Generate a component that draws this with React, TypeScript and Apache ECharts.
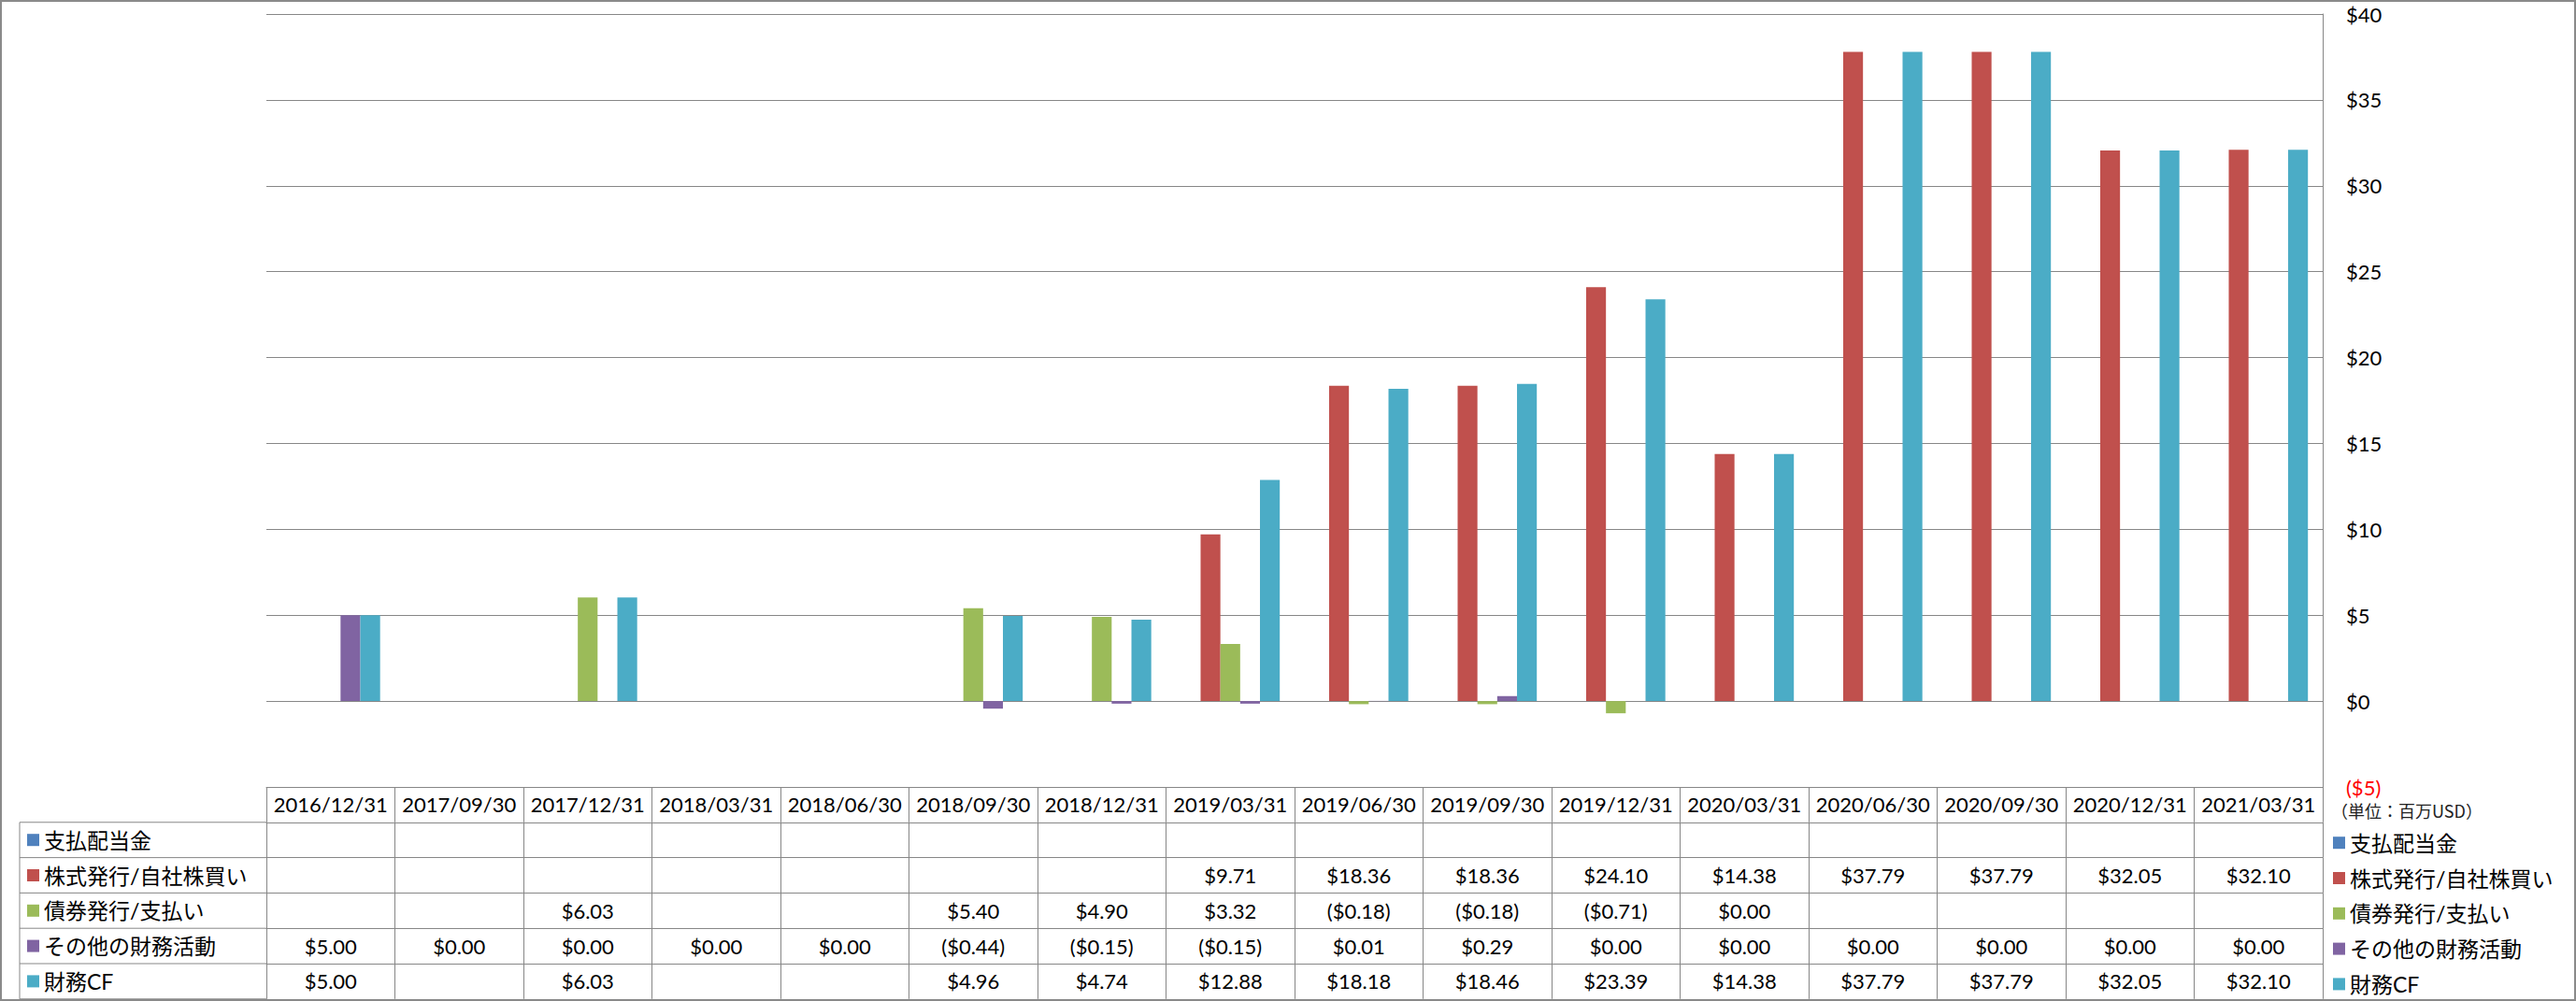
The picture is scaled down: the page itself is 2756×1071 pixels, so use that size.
import React, { useEffect, useRef } from 'react';
import * as echarts from 'echarts';

// ---------- data ----------
const categories = [
  '2016/12/31', '2017/09/30', '2017/12/31', '2018/03/31', '2018/06/30', '2018/09/30',
  '2018/12/31', '2019/03/31', '2019/06/30', '2019/09/30', '2019/12/31', '2020/03/31',
  '2020/06/30', '2020/09/30', '2020/12/31', '2021/03/31',
];

const seriesNames = ['支払配当金', '株式発行/自社株買い', '債券発行/支払い', 'その他の財務活動', '財務CF'];

const dividendsPaid = [null, null, null, null, null, null, null, null, null, null, null, null, null, null, null, null];
const stockIssuance = [null, null, null, null, null, null, null, 9.71, 18.36, 18.36, 24.10, 14.38, 37.79, 37.79, 32.05, 32.10];
const debtIssuance = [null, null, 6.03, null, null, 5.40, 4.90, 3.32, -0.18, -0.18, -0.71, 0.00, null, null, null, null];
const otherFinancing = [5.00, 0.00, 0.00, 0.00, 0.00, -0.44, -0.15, -0.15, 0.01, 0.29, 0.00, 0.00, 0.00, 0.00, 0.00, 0.00];
const financingCF = [5.00, null, 6.03, null, null, 4.96, 4.74, 12.88, 18.18, 18.46, 23.39, 14.38, 37.79, 37.79, 32.05, 32.10];

const yMin = -5;
const yMax = 40;
const yInterval = 5;
const unitLabel = '（単位：百万USD）';

// ---------- styling ----------
const COLORS = ['#4F81BD', '#C0504D', '#9BBB59', '#8064A2', '#4BACC6'];
const GRID = '#878787';
const FONT = "Lato, 'Noto Sans CJK JP', sans-serif";
const W = 2756;
const H = 1071;
const PLOT_LEFT = 285;
const PLOT_RIGHT = 2485;
const PLOT_TOP = 15;
const PLOT_BOTTOM = 842;
const ROW_H = 37.8;
const TABLE_LEFT = 21;
const TABLE_FS = 22;
const LEGEND_FS = 23;
const LEGEND_LH = 24;

const fmt = (v: number | null) =>
  v === null || v === undefined ? '' : v < 0 ? `($${Math.abs(v).toFixed(2)})` : `$${v.toFixed(2)}`;

export default function App() {
  const ref = useRef<HTMLDivElement>(null);

  useEffect(() => {
    if (!ref.current) return;
    const chart = echarts.init(ref.current, undefined, { renderer: 'svg' });

    const seriesData = [dividendsPaid, stockIssuance, debtIssuance, otherFinancing, financingCF];

    const baseAxis = {
      type: 'category',
      data: categories,
      gridIndex: 0,
      position: 'bottom',
      axisLine: { show: true, onZero: false, lineStyle: { color: GRID, width: 1 } },
      axisTick: { show: true, length: ROW_H, interval: 0, alignWithLabel: false, lineStyle: { color: GRID, width: 1 } },
      splitLine: { show: false },
      axisPointer: { show: false },
    };

    const xAxes: any[] = [
      {
        ...baseAxis,
        offset: 0,
        axisLabel: {
          interval: 0,
          margin: ROW_H / 2,
          verticalAlign: 'middle',
          fontSize: TABLE_FS,
          color: '#000',
          fontFamily: FONT,
        },
      },
      ...seriesData.map((arr, k) => ({
        ...baseAxis,
        offset: ROW_H * (k + 1),
        axisLabel: {
          interval: 0,
          margin: ROW_H / 2,
          verticalAlign: 'middle',
          fontSize: TABLE_FS,
          color: '#000',
          fontFamily: FONT,
          formatter: (_v: string, i: number) => fmt(arr[i] as any),
        },
      })),
      {
        ...baseAxis,
        offset: ROW_H * 6,
        axisTick: { show: false },
        axisLabel: { show: false },
      },
    ];

    const graphic: any[] = [
      {
        type: 'rect',
        silent: true,
        shape: { x: 1, y: 1, width: W - 2, height: H - 2 },
        style: { fill: 'none', stroke: '#8a8a8a', lineWidth: 2 },
      },
      {
        type: 'line',
        silent: true,
        shape: { x1: TABLE_LEFT, y1: PLOT_BOTTOM + ROW_H, x2: TABLE_LEFT, y2: PLOT_BOTTOM + ROW_H * 6 },
        style: { stroke: GRID, lineWidth: 1 },
      },
      ...[1, 2, 3, 4, 5, 6].map((k) => ({
        type: 'line',
        silent: true,
        shape: {
          x1: TABLE_LEFT,
          y1: PLOT_BOTTOM + ROW_H * k,
          x2: PLOT_LEFT,
          y2: PLOT_BOTTOM + ROW_H * k,
        },
        style: { stroke: GRID, lineWidth: 1 },
      })),
    ];

    const legendBase = {
      orient: 'vertical',
      icon: 'rect',
      itemWidth: 13,
      itemHeight: 13,
      itemGap: ROW_H - LEGEND_LH,
      selectedMode: false,
      data: seriesNames,
      padding: 0,
      textStyle: { fontSize: LEGEND_FS, lineHeight: LEGEND_LH, color: '#000', fontFamily: FONT },
    };

    chart.setOption({
      animation: false,
      backgroundColor: '#fff',
      color: COLORS,
      title: {
        text: unitLabel,
        left: 2494,
        top: 858,
        padding: 0,
        textStyle: { fontSize: 18, fontWeight: 'normal', color: '#222', fontFamily: "'Noto Sans CJK JP', sans-serif" },
      },
      legend: [
        { ...legendBase, left: 29, top: PLOT_BOTTOM + ROW_H * 1.5 - LEGEND_LH / 2 },
        { ...legendBase, left: 2496, top: PLOT_BOTTOM + ROW_H * 1.5 - LEGEND_LH / 2 + 3 },
      ],
      grid: {
        left: PLOT_LEFT,
        top: PLOT_TOP,
        width: PLOT_RIGHT - PLOT_LEFT,
        height: PLOT_BOTTOM - PLOT_TOP,
        containLabel: false,
        outerBoundsMode: 'none',
      },
      xAxis: xAxes,
      yAxis: {
        type: 'value',
        position: 'right',
        min: yMin,
        max: yMax,
        interval: yInterval,
        axisLine: { show: true, lineStyle: { color: GRID, width: 1 } },
        axisTick: { show: false },
        splitLine: { show: true, lineStyle: { color: GRID, width: 1 } },
        axisLabel: {
          margin: 25,
          fontSize: 22,
          color: '#000',
          fontFamily: FONT,
          formatter: (v: number) => (v < 0 ? `{neg|($${Math.abs(v)})}` : `$${v}`),
          rich: { neg: { color: '#FF0000', fontSize: 22, fontFamily: FONT } },
        },
      },
      series: seriesNames.map((name, i) => ({
        name,
        type: 'bar',
        xAxisIndex: 0,
        data: seriesData[i],
        barGap: '0%',
        barCategoryGap: '23%',
        itemStyle: { color: COLORS[i] },
      })),
      graphic,
    });

    return () => chart.dispose();
  }, []);

  return (
    <div
      ref={ref}
      style={{ position: 'fixed', left: 0, top: 0, width: W, height: H, background: '#fff' }}
    />
  );
}
